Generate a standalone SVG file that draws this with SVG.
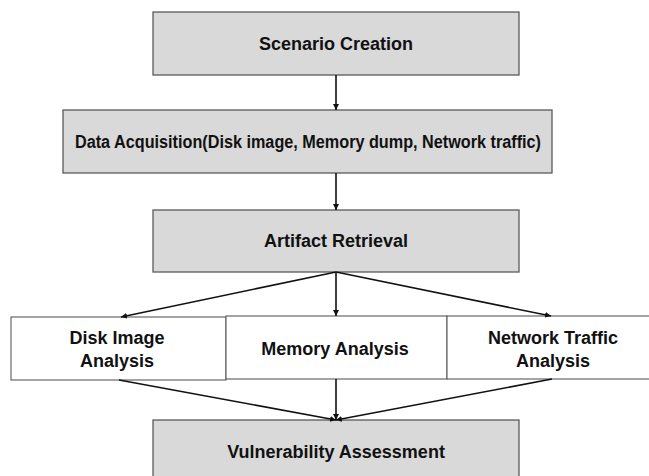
<svg xmlns="http://www.w3.org/2000/svg" width="649" height="476" viewBox="0 0 649 476">
  <style>
    .box { fill: #d9d9d9; stroke: #5a5a5a; stroke-width: 1.3; }
    .plain { fill: #ffffff; stroke: #5a5a5a; stroke-width: 1.1; }
    .label { font-family: "Liberation Sans", Arial, sans-serif; font-weight: bold; font-size: 18px; fill: #111111; text-anchor: middle; }
    .edge { stroke: #111111; stroke-width: 1.6; fill: none; marker-end: url(#head); }
  </style>
  <defs>
    <marker id="head" viewBox="0 0 10 10" refX="10" refY="5" markerWidth="6" markerHeight="6" markerUnits="userSpaceOnUse" orient="auto">
      <path d="M0,0 L10,5 L0,10 z" fill="#111111"/>
    </marker>
  </defs>

  <rect width="649" height="476" fill="#ffffff"/>

  <g id="scenario-creation">
    <rect class="box" x="153" y="12" width="366" height="63"/>
    <text class="label" x="336" y="50">Scenario Creation</text>
  </g>

  <g id="data-acquisition">
    <rect class="box" x="63" y="110" width="489" height="63"/>
    <text class="label" x="308" y="148" textLength="466" lengthAdjust="spacingAndGlyphs">Data Acquisition(Disk image, Memory dump, Network traffic)</text>
  </g>

  <g id="artifact-retrieval">
    <rect class="box" x="153" y="210" width="366" height="62"/>
    <text class="label" x="336" y="247">Artifact Retrieval</text>
  </g>

  <g id="disk-image-analysis">
    <rect class="plain" x="11" y="317" width="215" height="63"/>
    <text class="label" x="117" y="344">Disk Image</text>
    <text class="label" x="117" y="367">Analysis</text>
  </g>

  <g id="memory-analysis">
    <rect class="plain" x="226" y="316" width="221" height="63"/>
    <text class="label" x="335" y="355">Memory Analysis</text>
  </g>

  <g id="network-traffic-analysis">
    <rect class="plain" x="447" y="316" width="210" height="63"/>
    <text class="label" x="553" y="344">Network Traffic</text>
    <text class="label" x="553" y="367">Analysis</text>
  </g>

  <g id="vulnerability-assessment">
    <rect class="box" x="153" y="420" width="366" height="70"/>
    <text class="label" x="336" y="458">Vulnerability Assessment</text>
  </g>

  <g id="connectors">
    <line class="edge" x1="336" y1="75" x2="336" y2="110"/>
    <line class="edge" x1="336" y1="173" x2="336" y2="210"/>
    <line class="edge" x1="336" y1="272" x2="121" y2="317"/>
    <line class="edge" x1="336" y1="272" x2="336" y2="316"/>
    <line class="edge" x1="336" y1="272" x2="551" y2="316"/>
    <line class="edge" x1="119" y1="380" x2="336" y2="420"/>
    <line class="edge" x1="336" y1="379" x2="336" y2="420"/>
    <line class="edge" x1="552" y1="379" x2="336" y2="420"/>
  </g>
</svg>
